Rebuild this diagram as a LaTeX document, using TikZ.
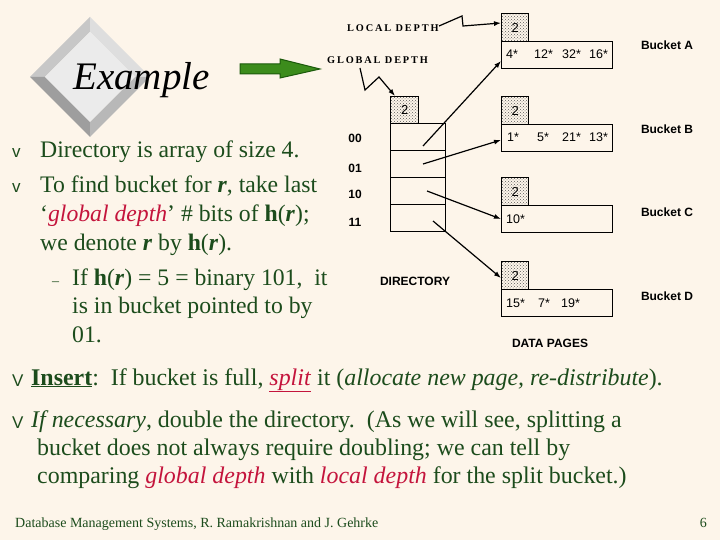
\documentclass[tikz,border=0pt]{standalone}
\usepackage{fontspec}
\setmainfont{Liberation Serif}
\setsansfont{Liberation Sans}
\newfontfamily\spacedserif[LetterSpace=18]{Liberation Serif}
\usetikzlibrary{arrows.meta,patterns}
\definecolor{bgc}{HTML}{FDF5EA}
\definecolor{txg}{HTML}{1C4C1C}
\definecolor{txr}{HTML}{C4143C}
\definecolor{arrg}{HTML}{3C8C1C}
\definecolor{arrd}{HTML}{1C5A0C}
\tikzset{
  body/.style={anchor=base west,inner sep=0pt,text=txg,font=\fontsize{23.7}{27}\selectfont},
  bottomtxt/.style={anchor=base west,inner sep=0pt,text=txg,font=\fontsize{23.9}{27}\selectfont},
  bul/.style={anchor=base west,inner sep=0pt,text=txg,font=\sffamily\fontsize{17}{19}\selectfont},
  lbl/.style={inner sep=0pt,font=\sffamily\bfseries\fontsize{12}{14}\selectfont},
  ent/.style={anchor=base west,inner sep=0pt,font=\sffamily\fontsize{12.5}{14}\selectfont},
  depthlbl/.style={anchor=base west,inner sep=0pt,font=\spacedserif\bfseries\fontsize{10.3}{12}\selectfont},
  stip/.style={draw,line width=1.3pt,pattern=crosshatch dots,pattern color=black!65},
  boxx/.style={draw,line width=1.3pt},
  ptr/.style={line width=1.2pt,-{Latex[length=7pt,width=5pt]}},
}
\newcommand{\hr}{\textbf{h}(\textbf{\textit{r}})}
\begin{document}
\begin{tikzpicture}[x=1pt,y=-1pt]
\fill[bgc] (0,0) rectangle (720,540);
\useasboundingbox (0,0) rectangle (720,540);
% diamond
\fill[black!22] (90,17) -- (30,77) -- (45,77) -- (90,32) -- cycle;
\fill[black!13] (90,17) -- (150,77) -- (135,77) -- (90,32) -- cycle;
\fill[black!38] (30,77) -- (90,137) -- (90,122) -- (45,77) -- cycle;
\fill[black!28] (150,77) -- (90,137) -- (90,122) -- (135,77) -- cycle;
\fill[black!8] (90,32) -- (135,77) -- (90,122) -- (45,77) -- cycle;
\node[anchor=base west,inner sep=0pt,font=\itshape\fontsize{39}{44}\selectfont] (ex) at (73,90) {Example};
% green arrow
\filldraw[fill=arrg,draw=arrd,line width=1pt] (240,64) -- (280,64) -- (280,59) -- (320,69) -- (280,78) -- (280,74) -- (240,74) -- cycle;
% bullets top
\node[bul] (b1) at (12,158) {v};
\node[body] (t1) at (40,158) {Directory is array of size 4.};
\node[bul] (b2) at (12,193) {v};
\node[body] (t2) at (40,193) {To find bucket for \textbf{\textit{r}}, take last};
\node[body] (t3) at (40,222) {`\textcolor{txr}{\textit{global depth}}' \# bits of \hr;};
\node[body] (t4) at (40,250) {we denote \textbf{\textit{r}} by \hr.};
\node[body] (d5) at (52,285) {\fontsize{14}{16}\selectfont –};
\node[body] (t5) at (72,285) {If \hr{} = 5 = binary 101,\ \ it};
\node[body] (t6) at (72,313) {is in bucket pointed to by};
\node[body] (t7) at (72,342) {01.};
% bottom bullets
\node[bul] (b3) at (12,386) {V};
\node[bottomtxt] (t8) at (31,385) {\textbf{\underline{Insert}}:\ \ If bucket is full, \textcolor{txr}{\underline{\textit{split}}} it (\textit{allocate new page, re-distribute}).};
\node[bul] (b4) at (12,428) {V};
\node[bottomtxt] (t9) at (31,427) {\textit{If necessary}, double the directory.\ \ (As we will see, splitting a};
\node[bottomtxt] (t10) at (37,455) {bucket does not always require doubling; we can tell by};
\node[bottomtxt] (t11) at (37,483) {comparing \textcolor{txr}{\textit{global depth}} with \textcolor{txr}{\textit{local depth}} for the split bucket.)};
\node[anchor=base west,inner sep=0pt,text=txg,font=\fontsize{14}{16}\selectfont] (foot) at (15,527) {Database Management Systems, R. Ramakrishnan and J. Gehrke};
\node[anchor=base east,inner sep=0pt,text=txg,font=\fontsize{14}{16}\selectfont] (pg) at (707,527) {6};
% depth labels
\node[depthlbl] (ld) at (347,32) {LOCAL DEPTH};
\node[depthlbl] (gd) at (327,64) {GLOBAL DEPTH};
% directory
\node[stip,minimum width=28pt,minimum height=27pt,inner sep=0pt,anchor=north west,font=\sffamily\fontsize{13}{15}\selectfont] (gdb) at (390,96) {2};
\node[boxx,minimum width=55pt,minimum height=27pt,anchor=north west] (r0) at (390,123) {};
\node[boxx,minimum width=55pt,minimum height=27pt,anchor=north west] (r1) at (390,150) {};
\node[boxx,minimum width=55pt,minimum height=27pt,anchor=north west] (r2) at (390,177) {};
\node[boxx,minimum width=55pt,minimum height=27pt,anchor=north west] (r3) at (390,204) {};
\node[lbl,anchor=center] (l0) at (355,138) {00};
\node[lbl,anchor=center] (l1) at (355,168) {01};
\node[lbl,anchor=center] (l2) at (355,194) {10};
\node[lbl,anchor=center] (l3) at (355,222) {11};
\node[lbl,anchor=center] (dir) at (415,281) {DIRECTORY};
\node[lbl,anchor=center] (dp) at (550,343) {DATA PAGES};
% buckets
\foreach \nm/\yy in {A/13,B/96,C/177,D/261}{
  \node[stip,minimum width=27pt,minimum height=28pt,inner sep=0pt,anchor=north west,font=\sffamily\fontsize{13}{15}\selectfont] (ld\nm) at (501,\yy) {2};
  \node[boxx,minimum width=111pt,minimum height=27pt,inner sep=0pt,anchor=north west] (bk\nm) at (501,\yy+28) {};
}
\node[lbl] (nA) at (667,45) {Bucket A};
\node[lbl] (nB) at (667,129) {Bucket B};
\node[lbl] (nC) at (667,212) {Bucket C};
\node[lbl] (nD) at (667,296) {Bucket D};
\node[ent] at (506,59) {4*};
\node[ent] at (534,59) {12*};
\node[ent] at (562,59) {32*};
\node[ent] at (589,59) {16*};
\node[ent] at (507,142) {1*};
\node[ent] at (537,142) {5*};
\node[ent] at (562,142) {21*};
\node[ent] at (589,142) {13*};
\node[ent] at (506,224) {10*};
\node[ent] at (506,307) {15*};
\node[ent] at (538,307) {7*};
\node[ent] at (561,307) {19*};
% pointer coordinates
\coordinate (s0) at (423,146);
\coordinate (s1) at (423,164);
\coordinate (s2) at (427,191);
\coordinate (s3) at (433,221);
\coordinate (e0) at (501,61);
\coordinate (e1) at (501,140);
\coordinate (e2) at (501,219);
\coordinate (e3) at (501,278);
\draw[ptr] (s0) -- (e0);
\draw[ptr] (s1) -- (e1);
\draw[ptr] (s2) -- (e2);
\draw[ptr] (s3) -- (e3);
% zigzags
\coordinate (lz0) at (439,26);
\coordinate (gz0) at (360,68);
\draw[line width=1.2pt,-{Latex[length=7pt,width=5pt]}] (lz0) -- (462,16) -- (463,26) -- (ldA.west |- 0,23);
\draw[line width=1.2pt,-{Latex[length=7pt,width=5pt]}] (gz0) -- (365,90) -- (379,77) -- (395,96);
\end{tikzpicture}
\end{document}
